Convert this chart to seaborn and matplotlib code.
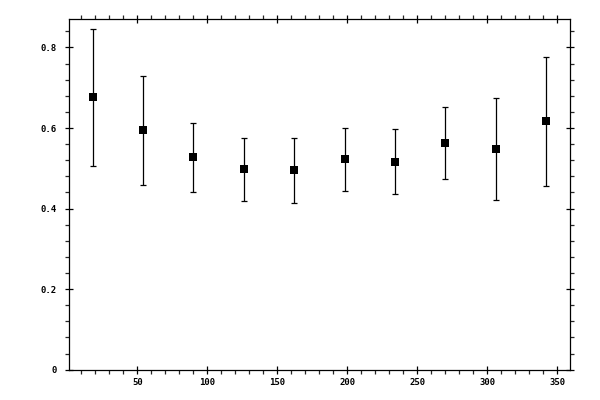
import matplotlib
matplotlib.use("Agg")
import matplotlib.pyplot as plt
from matplotlib.ticker import MultipleLocator
import seaborn as sns
import pandas as pd

# values
x_vals = [18, 54, 90, 126, 162, 198, 234, 270, 306, 342]
y_mean = [0.677, 0.595, 0.528, 0.498, 0.495, 0.523, 0.515, 0.562, 0.548, 0.617]
y_upper = [0.847, 0.729, 0.612, 0.576, 0.576, 0.600, 0.597, 0.652, 0.674, 0.776]
y_lower = [0.506, 0.458, 0.441, 0.418, 0.413, 0.443, 0.437, 0.473, 0.421, 0.456]
x_ticks = [50, 100, 150, 200, 250, 300, 350]
y_ticks = [0, 0.2, 0.4, 0.6, 0.8]
y_tick_labels = ["0", "0.2", "0.4", "0.6", "0.8"]

df = pd.DataFrame({"x": x_vals, "y": y_mean, "lo": y_lower, "hi": y_upper})

sns.set_style("ticks")
plt.rcParams["font.family"] = ["DejaVu Sans Mono"]
plt.rcParams["font.weight"] = "bold"

fig = plt.figure(figsize=(6, 4), dpi=100)
ax = fig.add_axes([0.115, 0.0758, 0.835, 0.876])

# error bars
ax.errorbar(df["x"], df["y"],
            yerr=[df["y"] - df["lo"], df["hi"] - df["y"]],
            fmt="none", ecolor="black", elinewidth=0.9, capsize=2.3, capthick=0.9)
sns.scatterplot(data=df, x="x", y="y", marker="s", s=30, color="black",
                edgecolor="black", linewidth=0, ax=ax, zorder=3)

ax.set_xlim(1.2, 359)
ax.set_ylim(0, 0.87)
ax.set_xticks(x_ticks)
ax.set_yticks(y_ticks)
ax.set_yticklabels(y_tick_labels)
ax.xaxis.set_minor_locator(MultipleLocator(10))
ax.yaxis.set_minor_locator(MultipleLocator(0.04))
ax.set_xlabel("")
ax.set_ylabel("")

for sp in ax.spines.values():
    sp.set_visible(True)
    sp.set_linewidth(0.9)
    sp.set_color("black")

ax.tick_params(which="major", direction="inout", length=6, width=0.9,
               top=True, right=True, labelsize=6.5, pad=3, colors="black")
ax.tick_params(which="minor", direction="out", length=3, width=0.9,
               top=True, right=True)
ax.tick_params(axis="y", which="major", pad=6)

fig.savefig("out.png", dpi=100, facecolor="white")
